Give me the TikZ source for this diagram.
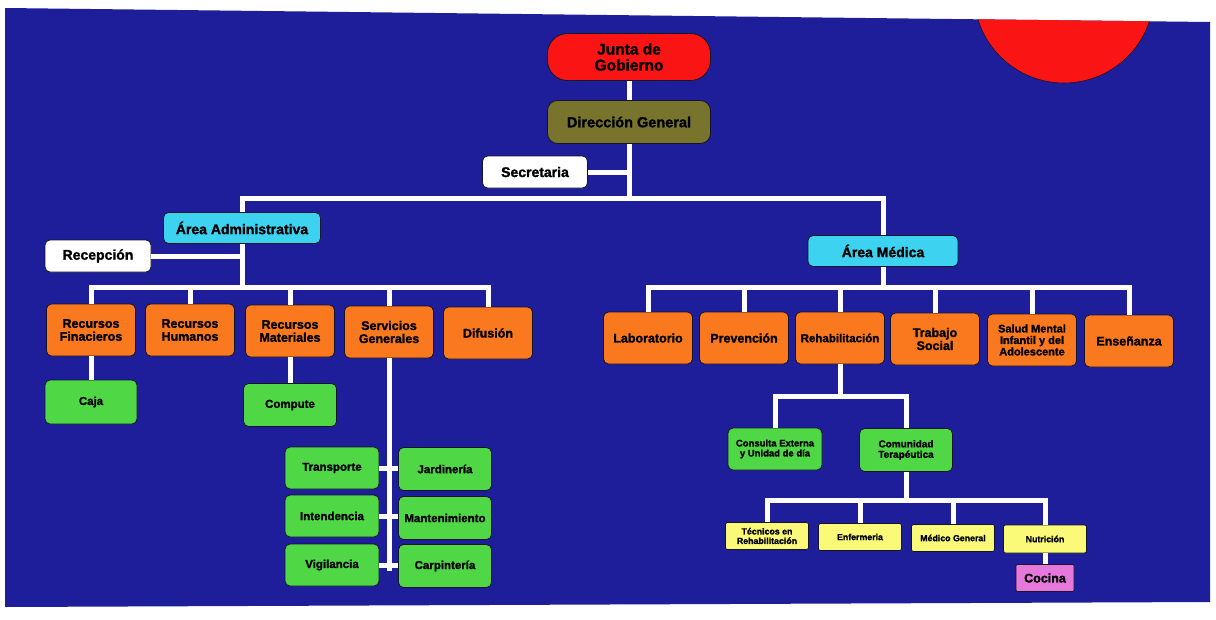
\documentclass[tikz,border=0pt]{standalone}
\usepackage{fontspec}
\setmainfont{Liberation Sans}[BoldFeatures={FakeBold=1.5}]
\definecolor{bgblue}{RGB}{30,30,155}
\definecolor{cred}{RGB}{250,20,20}
\definecolor{colive}{RGB}{120,115,45}
\definecolor{ccyan}{RGB}{60,210,240}
\definecolor{corange}{RGB}{250,120,30}
\definecolor{cgreen}{RGB}{80,215,70}
\definecolor{cyellow}{RGB}{250,250,120}
\definecolor{cpink}{RGB}{230,120,220}
\definecolor{cborder}{RGB}{20,20,40}
\begin{document}
\begin{tikzpicture}[x=1pt,y=-1pt,
  box/.style={draw=cborder, line width=0.8pt, rounded corners=5pt, align=center, inner sep=1pt, font=\bfseries\fontsize{12.5}{13}\selectfont, text=black},
  obox/.style={box, fill=corange, minimum width=89pt, minimum height=52pt},
  gbox/.style={box, fill=cgreen, minimum width=93pt, minimum height=43pt, font=\bfseries\fontsize{11.5}{12}\selectfont},
  ybox/.style={box, fill=cyellow, minimum width=83pt, minimum height=27pt, rounded corners=2pt, font=\bfseries\fontsize{8.8}{9.5}\selectfont},
  wbox/.style={box, fill=white, minimum height=32pt, font=\bfseries\fontsize{14}{15}\selectfont},
  cbox/.style={box, fill=ccyan, minimum height=31pt, font=\bfseries\fontsize{14}{15}\selectfont},
  conn/.style={draw=white, line width=5pt, line join=miter}
]
\useasboundingbox (0,0) rectangle (1216,619);
\fill[white] (0,0) rectangle (1216,619);
\begin{scope}
  \clip (5,8) -- (1210,22) -- (1210,602) -- (5,607) -- cycle;
  \fill[bgblue] (0,0) rectangle (1216,619);
  \filldraw[fill=cred, draw=cborder, line width=0.6pt] (1064,-7) circle (90);
\end{scope}

% top
\node[box, fill=cred, minimum width=163pt, minimum height=47pt, rounded corners=20pt, font=\bfseries\fontsize{15.5}{16}\selectfont] (junta) at (629,57) {Junta de\\Gobierno};
\node[box, fill=colive, minimum width=163pt, minimum height=43pt, rounded corners=10pt, font=\bfseries\fontsize{14.5}{15}\selectfont] (dir) at (629,122) {Dirección General};
\node[wbox, minimum width=105pt] (sec) at (535,172) {Secretaria};
\coordinate (t1) at (629,198);

\node[cbox, minimum width=157pt] (aa) at (242,228) {Área Administrativa};
\node[wbox, minimum width=106pt] (rec) at (98,256) {Recepción};
\node[cbox, minimum width=150pt] (am) at (883,251) {Área Médica};

\draw[conn] (junta.south) -- (dir.north);
\draw[conn] (dir.south) -- (t1);
\draw[conn] (sec.east) -- (sec.east -| t1);
\draw[conn] (aa.north) |- (t1) -| (am.north);

% admin
\coordinate (t2) at (242,287);
\node[obox] (rf) at (91,330) {Recursos\\Finacieros};
\node[obox] (rh) at (190,330) {Recursos\\Humanos};
\node[obox] (rm) at (290,331) {Recursos\\Materiales};
\node[obox] (sg) at (389,332) {Servicios\\Generales};
\node[obox] (dif) at (488,333) {Difusión};
\draw[conn] (aa.south) -- (t2);
\draw[conn] (rec.east) -- (rec.east -| aa.south);
\draw[conn] (rf.north) |- (t2) -| (dif.north);
\draw[conn] (rh.north) -- (rh.north |- t2);
\draw[conn] (rm.north) -- (rm.north |- t2);
\draw[conn] (sg.north) -- (sg.north |- t2);

\node[gbox, minimum width=92pt, minimum height=44pt] (caja) at (91,402) {Caja};
\node[gbox] (comp) at (290,405) {Compute};
\draw[conn] (rf.south) -- (caja.north);
\draw[conn] (rm.south) -- (comp.north);

\node[gbox, minimum width=94pt, minimum height=42pt] (tra) at (332,468) {Transporte};
\node[gbox, minimum width=94pt, minimum height=42pt] (int) at (332,516) {Intendencia};
\node[gbox, minimum width=94pt, minimum height=42pt] (vig) at (332,565) {Vigilancia};
\node[gbox] (jar) at (445,469) {Jardinería};
\node[gbox] (man) at (445,518) {Mantenimiento};
\node[gbox] (car) at (445,566) {Carpintería};
\coordinate (sgend) at (389,571);
\draw[conn] (sg.south) -- (sgend);
\draw[conn] (tra.east) -- (tra.east -| jar.west);
\draw[conn] (int.east) -- (int.east -| man.west);
\draw[conn] (vig.east) -- (vig.east -| car.west);

% medical
\coordinate (t3) at (883,287);
\node[obox] (lab) at (648,338) {Laboratorio};
\node[obox] (prev) at (744,338) {Prevención};
\node[obox, font=\bfseries\fontsize{11.5}{12}\selectfont] (reh) at (840,338) {Rehabilitación};
\node[obox] (ts) at (935,339) {Trabajo\\Social};
\node[obox, font=\bfseries\fontsize{11}{11.5}\selectfont] (sm) at (1032,340) {Salud Mental\\Infantil y del\\Adolescente};
\node[obox] (ens) at (1129,341) {Enseñanza};
\draw[conn] (am.south) -- (t3);
\draw[conn] (lab.north) |- (t3) -| (ens.north);
\draw[conn] (prev.north) -- (prev.north |- t3);
\draw[conn] (reh.north) -- (reh.north |- t3);
\draw[conn] (ts.north) -- (ts.north |- t3);
\draw[conn] (sm.north) -- (sm.north |- t3);

\coordinate (t4) at (840,396);
\node[gbox, minimum width=94pt, minimum height=42pt, font=\bfseries\fontsize{9.5}{10}\selectfont] (ce) at (775,449) {Consulta Externa\\y Unidad de día};
\node[gbox, font=\bfseries\fontsize{10}{10.5}\selectfont] (ct) at (906,450) {Comunidad\\Terapéutica};
\draw[conn] (reh.south) -- (t4);
\draw[conn] (ce.north) |- (t4) -| (ct.north);

\coordinate (t5) at (906,500);
\node[ybox] (tec) at (767,536) {Técnicos en\\Rehabilitación};
\node[ybox] (enf) at (860,537) {Enfermeria};
\node[ybox] (med) at (953,538) {Médico General};
\node[ybox, minimum height=28pt] (nut) at (1045,539) {Nutrición};
\draw[conn] (ct.south) -- (t5);
\draw[conn] (tec.north) |- (t5) -| (nut.north);
\draw[conn] (enf.north) -- (enf.north |- t5);
\draw[conn] (med.north) -- (med.north |- t5);

\node[box, fill=cpink, minimum width=58pt, minimum height=27pt, rounded corners=1pt, font=\bfseries\fontsize{12.5}{13}\selectfont] (coc) at (1045,578) {Cocina};
\draw[conn] (nut.south) -- (coc.north);
\end{tikzpicture}
\end{document}
